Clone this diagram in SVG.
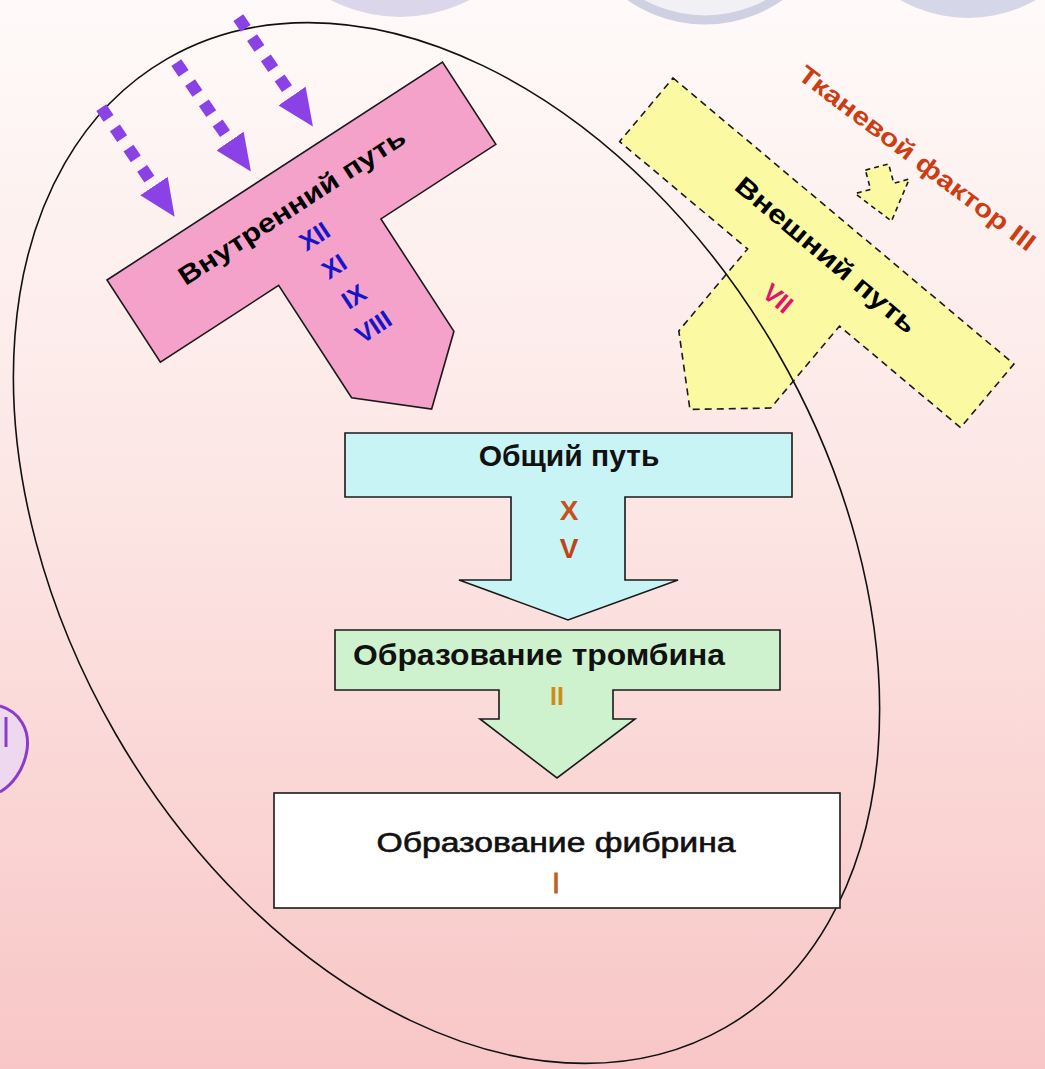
<svg xmlns="http://www.w3.org/2000/svg" width="1045" height="1069" viewBox="0 0 1045 1069">
<defs>
<linearGradient id="bg" x1="0" y1="0" x2="0" y2="1">
<stop offset="0" stop-color="#fefaf9"/>
<stop offset="0.45" stop-color="#fce7e5"/>
<stop offset="1" stop-color="#f8c6c6"/>
</linearGradient>
<marker id="ah" viewBox="0 0 37 33" refX="0" refY="16.5" markerWidth="37" markerHeight="33" markerUnits="userSpaceOnUse" orient="auto">
<path d="M0,0 L37,16.5 L0,33 z" fill="#8a42e6"/>
</marker>
</defs>
<style>
.b{font-family:"Liberation Sans",Arial,sans-serif;font-weight:bold}
.r{font-family:"Liberation Sans",Arial,sans-serif}
.shape{stroke:#1a1a1a;stroke-width:1.6;stroke-linejoin:miter}
.dash{stroke-dasharray:7 5}
.purple{stroke:#8a42e6;stroke-width:12;stroke-dasharray:13 11.4;fill:none}
</style>
<rect x="0" y="0" width="1045" height="1069" fill="url(#bg)"/>

<g id="top-circles">
<circle cx="400" cy="-133" r="150" fill="#dcd6ea"/>
<circle cx="705" cy="-111" r="131" fill="#f1f0f5" stroke="#cfd0e1" stroke-width="9"/>
<circle cx="968" cy="-119" r="137" fill="#d6d6e9"/>
</g>

<g id="left-symbol">
<path d="M0,706 C20,712 30,730 27,750 C24,770 12,785 0,792" fill="#eed8f0" stroke="#8a3cc8" stroke-width="3"/>
<line x1="6" y1="717" x2="6" y2="747" stroke="#8a3cc8" stroke-width="3"/>
</g>

<g id="extrinsic-path" transform="translate(673,78) rotate(40)">
<path class="shape dash" d="M0,0 H445 V83 H287 V190 L226,243 L167,190 V83 H0 Z" fill="#fbf9a2"/>
<text class="b" x="231" y="46" font-size="26" text-anchor="middle" textLength="228" lengthAdjust="spacingAndGlyphs" fill="#000">Внешний путь</text>
<text class="b" x="222" y="110" font-size="25" text-anchor="middle" fill="#e0146e">VII</text>
</g>

<ellipse id="outline" cx="446.5" cy="543" rx="382" ry="559" transform="rotate(-30 446.5 543)" fill="none" stroke="#111" stroke-width="1.6"/>

<g id="intrinsic-path" transform="translate(107,280) rotate(-33)">
<path class="shape" d="M0,0 H400 V98 H263 V232 L202,285 L141,232 V98 H0 Z" fill="#f5a2ca"/>
<text class="b" x="195" y="48" font-size="26" text-anchor="middle" textLength="265" lengthAdjust="spacingAndGlyphs" fill="#000">Внутренний путь</text>
<g class="b" font-size="25" text-anchor="middle" fill="#1616c8">
<text x="198" y="85">XII</text>
<text x="198" y="121">XI</text>
<text x="198" y="157">IX</text>
<text x="198" y="193">VIII</text>
</g>
</g>

<g id="tissue-factor">
<text class="b" x="912" y="165" font-size="25" text-anchor="middle" textLength="290" lengthAdjust="spacingAndGlyphs" fill="#cc3d12" transform="rotate(37 912 165)">Тканевой фактор III</text>
</g>

<g id="common-path">
<path class="shape" d="M345,433 H792 V497 H625 V580 H678 L568,620 L459,580 H511 V497 H345 Z" fill="#c8f4f6"/>
<text class="b" x="569" y="466" font-size="30" text-anchor="middle" fill="#111">Общий путь</text>
<text class="b" x="569" y="520" font-size="28" text-anchor="middle" fill="#c8501c">X</text>
<text class="b" x="569" y="558" font-size="28" text-anchor="middle" fill="#c04414">V</text>
</g>

<g id="thrombin">
<path class="shape" d="M335,630 H780 V690 H613 V719 H635 L557,778 L480,719 H499 V690 H335 Z" fill="#cdf2cd"/>
<text class="b" x="353" y="665" font-size="30" textLength="372" lengthAdjust="spacingAndGlyphs" fill="#111">Образование тромбина</text>
<text class="b" x="557" y="705" font-size="25" text-anchor="middle" fill="#d08a18">II</text>
</g>

<g id="fibrin">
<rect class="shape" x="274" y="793" width="566" height="115" fill="#ffffff"/>
<text class="r" x="556" y="852" font-size="27" text-anchor="middle" textLength="359" lengthAdjust="spacingAndGlyphs" fill="#111" stroke="#111" stroke-width="0.6">Образование фибрина</text>
<text class="r" x="556" y="893" font-size="29" text-anchor="middle" fill="#b8641c" stroke="#b8641c" stroke-width="0.8">I</text>
</g>

<g id="connectors">
<line class="purple" x1="101.3" y1="107.6" x2="154" y2="186" marker-end="url(#ah)"/>
<line class="purple" x1="176.3" y1="62.6" x2="230" y2="141" marker-end="url(#ah)"/>
<line class="purple" x1="238.3" y1="17.6" x2="292" y2="96" marker-end="url(#ah)"/>
<path class="shape" d="M-12,0 H12 V20 H28 L0,56 L-28,20 H-12 Z" fill="#fbf9a2" stroke-width="1.4" stroke-dasharray="5 4" transform="translate(877,167) rotate(-15)"/>
</g>
</svg>
